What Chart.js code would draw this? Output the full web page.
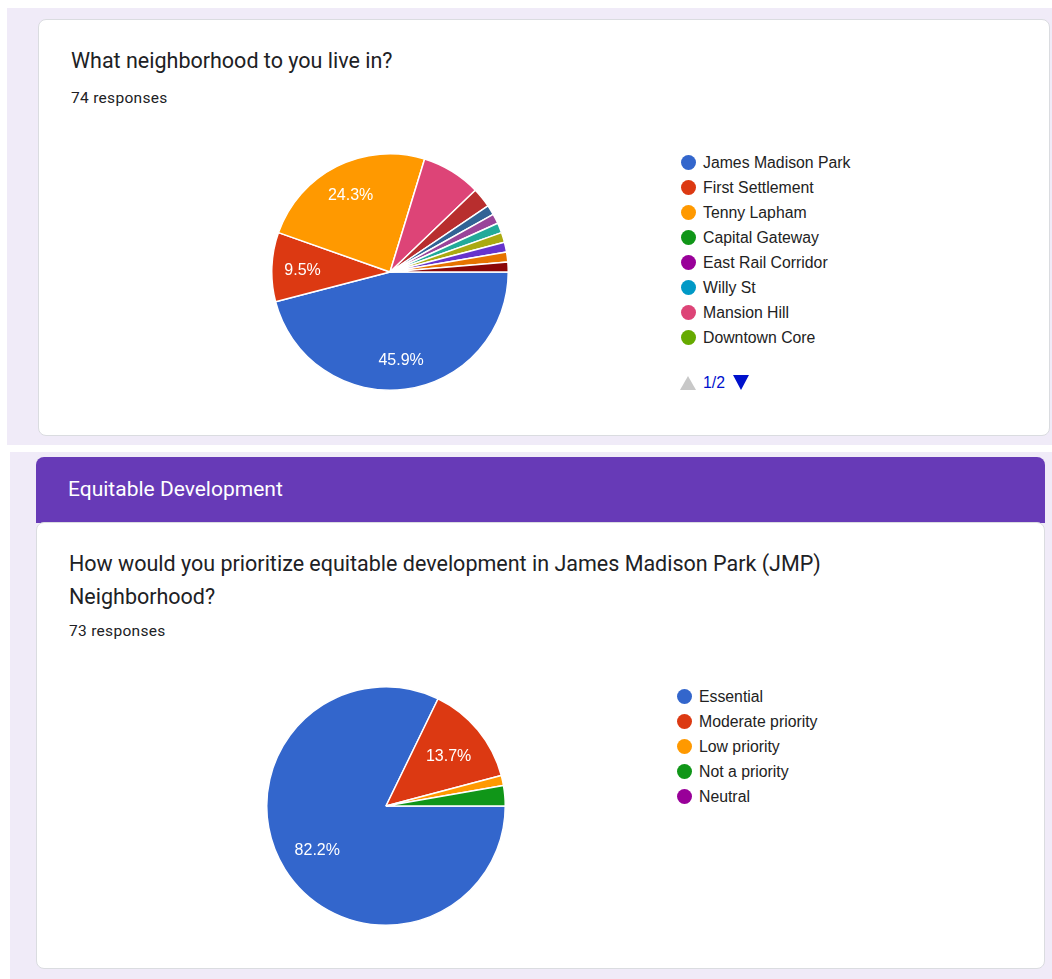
<!DOCTYPE html>
<html>
<head>
<meta charset="utf-8">
<title>Survey results</title>
<script src="https://cdn.jsdelivr.net/npm/chart.js@4.4.0/dist/chart.umd.min.js"></script>
<style>
  html, body { margin: 0; padding: 0; background: #fff; }
  body { width: 1052px; height: 979px; position: relative; overflow: hidden; font-family: Roboto, "Noto Sans", sans-serif; }
  .band { position: absolute; background: #f0ebf8; }
  .band-top { left: 7px; top: 8px; width: 1045px; height: 437px; }
  .band-bottom { left: 10px; top: 452px; width: 1042px; height: 527px; }
  .card { position: absolute; background: #fff; border: 1px solid #dadce0; border-radius: 8px; box-sizing: border-box; }
  .section-head { position: absolute; background: #673ab7; border-radius: 8px 8px 0 0; color: #fff; font-size: 21px; box-sizing: border-box; padding-left: 32px; line-height: 64px; }
  .q-title { position: absolute; color: #202124; font-size: 21.5px; line-height: 33px; }
  .q-count { position: absolute; color: #202124; font-size: 15.5px; letter-spacing: 0.3px; }
  .pie { position: absolute; }
  .legend { position: absolute; margin: 0; padding: 0; list-style: none; font-family: "Liberation Sans", Arial, sans-serif; font-size: 15.8px; color: #222; }
  .legend li { height: 25px; line-height: 25px; position: relative; padding-left: 22px; white-space: nowrap; }
  .legend li span { position: absolute; left: 0; top: 5px; width: 15px; height: 15px; border-radius: 50%; }
  .pager { position: absolute; font-family: "Liberation Sans", Arial, sans-serif; font-size: 15.8px; color: #0011cc; white-space: nowrap; height: 16px; line-height: 16px; }
  .pager .up, .pager .down { display: inline-block; width: 0; height: 0; vertical-align: top; }
  .pager .up { border-left: 8px solid transparent; border-right: 8px solid transparent; border-bottom: 14px solid #c8c8c8; margin: 1px 7px 0 0; }
  .pager .down { border-left: 8px solid transparent; border-right: 8px solid transparent; border-top: 15px solid #0011cc; margin: 0 0 0 8px; }
</style>
</head>
<body>
<div class="band band-top"></div>
<div class="band band-bottom"></div>

<div class="card" style="left:38px; top:19px; width:1012px; height:417px;"></div>
<div class="q-title" style="left:71px; top:44px;">What neighborhood to you live in?</div>
<div class="q-count" style="left:71px; top:89px;">74 responses</div>
<canvas id="pie1" class="pie" width="238" height="238" style="left:271px; top:153px;"></canvas>
<ul class="legend" id="legend1" style="left:681px; top:150px;"></ul>
<div class="pager" style="left:680px; top:375px;"><span class="up"></span>1/2<span class="down"></span></div>

<div class="section-head" style="left:36px; top:457px; width:1009px; height:66px;">Equitable Development</div>
<div class="card" style="left:36px; top:522px; width:1009px; height:447px;"></div>
<div class="q-title" style="left:69px; top:547px; width:790px;">How would you prioritize equitable development in James Madison Park (JMP) Neighborhood?</div>
<div class="q-count" style="left:69px; top:622px;">73 responses</div>
<canvas id="pie2" class="pie" width="240" height="240" style="left:266px; top:686px;"></canvas>
<ul class="legend" id="legend2" style="left:677px; top:684px;"></ul>

<script>
// Google-style slice palette, shared by both charts
const palette = ['#3366cc', '#dc3912', '#ff9900', '#109618', '#990099', '#0099c6',
                 '#dd4477', '#66aa00', '#b82e2e', '#316395', '#994499', '#22aa99',
                 '#aaaa11', '#6633cc', '#e67300', '#8b0707'];

// Q1: neighborhood (74 responses); legend shows the first page of 8
const neighborhoods = ['James Madison Park', 'First Settlement', 'Tenny Lapham', 'Capital Gateway',
                       'East Rail Corridor', 'Willy St', 'Mansion Hill', 'Downtown Core',
                       'Other 1', 'Other 2', 'Other 3', 'Other 4',
                       'Other 5', 'Other 6', 'Other 7', 'Other 8'];
const neighborhoodCounts = [34, 7, 18, 0, 0, 0, 6, 0, 2, 1, 1, 1, 1, 1, 1, 1];
const legendPageSize = 8;

// Q2: equitable development priority (73 responses)
const priorities = ['Essential', 'Moderate priority', 'Low priority', 'Not a priority', 'Neutral'];
const priorityCounts = [60, 10, 1, 2, 0];

// Writes "xx.x%" inside slices big enough to hold it
const sliceLabels = {
    id: 'sliceLabels',
    afterDatasetsDraw(chart, args, opts) {
        const ctx = chart.ctx;
        const data = chart.data.datasets[0].data;
        const total = data.reduce((a, b) => a + b, 0);
        chart.getDatasetMeta(0).data.forEach((arc, i) => {
            const pct = data[i] / total * 100;
            if (pct < opts.minPct) return;
            const mid = (arc.startAngle + arc.endAngle) / 2;
            const r = arc.outerRadius * opts.factor;
            ctx.save();
            ctx.fillStyle = '#fff';
            ctx.font = '16px "Liberation Sans", Arial, sans-serif';
            ctx.textAlign = 'center';
            ctx.textBaseline = 'middle';
            ctx.fillText(pct.toFixed(1) + '%', arc.x + Math.cos(mid) * r, arc.y + Math.sin(mid) * r + 2);
            ctx.restore();
        });
    }
};

function makePie(canvasId, labels, counts, labelFactor) {
    return new Chart(document.getElementById(canvasId), {
        type: 'pie',
        data: {
            labels: labels,
            datasets: [{
                data: counts,
                backgroundColor: palette.slice(0, counts.length),
                borderColor: '#ffffff',
                borderWidth: 1.5
            }]
        },
        options: {
            responsive: false,
            animation: false,
            rotation: 90, // first slice starts at 3 o'clock
            layout: { padding: 0 },
            plugins: {
                legend: { display: false },
                tooltip: { enabled: false },
                sliceLabels: { factor: labelFactor, minPct: 9 }
            }
        },
        plugins: [sliceLabels]
    });
}

function buildLegend(listId, labels, count) {
    const list = document.getElementById(listId);
    labels.slice(0, count).forEach((name, i) => {
        const li = document.createElement('li');
        const dot = document.createElement('span');
        dot.style.background = palette[i];
        li.appendChild(dot);
        li.appendChild(document.createTextNode(name));
        list.appendChild(li);
    });
}

makePie('pie1', neighborhoods, neighborhoodCounts, 0.74);
makePie('pie2', priorities, priorityCounts, 0.68);
buildLegend('legend1', neighborhoods, legendPageSize);
buildLegend('legend2', priorities, priorities.length);
</script>
</body>
</html>
